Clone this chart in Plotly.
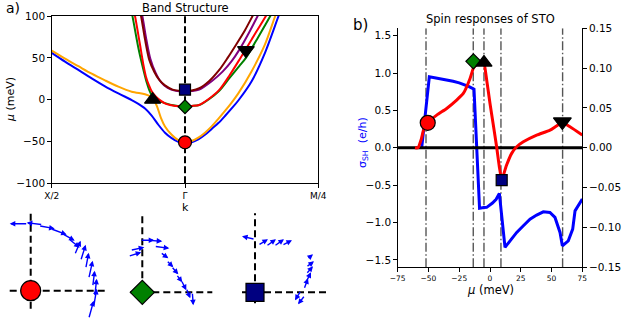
import plotly.graph_objects as go

W, H = 628, 320
def px(x): return x / W
def py(y): return 1 - y / H

# ---------------- Panel a: band structure (X/2=-1, Γ=0, M/4=1) ----------------
k_blue = [-1.0,-0.9,-0.8,-0.7,-0.6,-0.5,-0.4,-0.35,-0.3,-0.25,-0.2,-0.15,-0.1,-0.05,0.0,0.05,0.1,0.15,0.2,0.25,0.3,0.35,0.4,0.5,0.6,0.702,0.75]
mu_blue = [56,45.5,35.5,25.5,16,7.5,-0.5,-5,-10.5,-19,-30,-39.5,-46,-50.5,-52,-51,-47.5,-42,-35,-28,-19.5,-10.5,-1,22,56,100,120]

k_orange = [-1.0,-0.9,-0.8,-0.7,-0.6,-0.5,-0.4,-0.3,-0.26,-0.235,-0.21,-0.18,-0.15,-0.1,-0.05,0.0,0.05,0.1,0.15,0.2,0.25,0.3,0.35,0.4,0.5,0.6,0.677,0.72]
mu_orange = [58.5,49,40,31,23,15.5,9.5,6.5,4,0,-8,-22,-32,-42,-48.5,-51,-49.5,-45.5,-39.5,-32,-23,-13.5,-3.5,7.5,34,66,100,118]

k_green = [-0.42,-0.393,-0.35,-0.318,-0.29,-0.268,-0.245,-0.23,-0.19,-0.143,-0.09,-0.043,0.0,0.05,0.107,0.18,0.257,0.33,0.407,0.457,0.55,0.64,0.68]
mu_green = [120,99,62,39.5,22,11.5,4,1.5,-2,-4.5,-6.8,-8,-8.2,-7.5,-6.4,0.5,10.5,25,40,50,75,100,112]

k_red = [-0.4,-0.375,-0.34,-0.31,-0.293,-0.27,-0.25,-0.218,-0.18,-0.143,-0.07,0.0,0.05,0.107,0.18,0.257,0.33,0.407,0.5,0.607,0.65]
mu_red = [118,100,68,40,27.5,17,10,3.6,-1.5,-5,-7.5,-8,-7.5,-6.4,1,11.6,28,47.5,72,100,112]

k_purple = [-0.35,-0.32,-0.29,-0.26,-0.22,-0.18,-0.13,-0.07,0.0,0.05,0.107,0.2,0.282,0.35,0.407,0.48,0.545,0.6]
mu_purple = [120,100,72,49,32,21,14,10.5,9.8,10.3,12,22,33.5,46,59.5,80,100,118]

k_maroon = [-0.36,-0.33,-0.3,-0.268,-0.23,-0.193,-0.15,-0.093,-0.05,0.0,0.05,0.107,0.18,0.257,0.32,0.382,0.45,0.507,0.55]
mu_maroon = [120,100,72,47.5,33,23.5,17,12,10.8,10.5,11,13.6,22,35.5,50,65.4,83,100,113]

band_ticks = [-1, 0, 1]
band_ticklabels = ["X/2", "Γ", "M/4"]
mu_ticks = [-100, -50, 0, 50, 100]

# marker positions on bands
a_circle = (0.0, -51)
a_diamond = (0.0, -8.5)
a_square = (0.0, 12)
a_tri_up = (-0.243, 0)
a_tri_down = (0.457, 59)

# ---------------- Panel b: spin responses ----------------
mu_sh = [-55.5,-53.5,-51.5,-49.3,-45,-40,-35.2,-30,-25,-21.6,-17,-13.0,-8.5,-5,-2.7,2,5,7.6,12.2,16.3,21.7,27.1,32.5,37.9,43.3,48.7,52.8,56.9,58.8,63.6,67.2,69.1,75]
sigma_sh = [0,0.3,0.65,0.951,0.938,0.925,0.91,0.89,0.87,0.853,0.82,0.786,-0.81,-0.80,-0.798,-0.74,-0.69,-0.61,-1.334,-1.245,-1.133,-1.044,-0.955,-0.901,-0.857,-0.866,-0.932,-1.133,-1.312,-1.245,-1.089,-0.844,-0.687]

mu_k = [-61,-58.5,-56,-53.5,-50.6,-43.3,-35.2,-27.1,-21.7,-16.2,-13.5,-10.8,-6.8,-4.9,-2.7,0,2.7,5.4,7.6,9.5,10.9,13.5,17.6,21.7,27.1,37.9,48.8,58.8,65,75]
kappa = [0,0,0.010,0.025,0.0314,0.041,0.0494,0.0599,0.0682,0.087,0.100,0.105,0.107,0.106,0.085,0.0557,0.0285,0.001,-0.024,-0.0405,-0.0343,-0.0217,-0.007,0.0013,0.0075,0.0159,0.0222,0.0314,0.0264,0.0159]

vlines_mu = [-52, -13.6, -4.9, 8.9, 59]

b_circle = (-50.6, 0.0314)
b_diamond = (-13.5, 0.1085)
b_tri_up = (-4.9, 0.107)
b_square = (9.5, -0.0405)
b_tri_down = (58.8, 0.0326)

mu_b_ticks = [-75, -50, -25, 0, 25, 50, 75]
sigma_ticks = [-1.5, -1.0, -0.5, 0.0, 0.5, 1.0, 1.5]
kappa_ticks = [-0.15, -0.10, -0.05, 0.0, 0.05, 0.10, 0.15]

# ---------------- Insets: spin textures (offsets in px from marker, y up) ----------------
in1_tail_x = [-3, 12, 8, 20, 30, 38, 44, 50, 55, 58, 62, 64, 63, 58]
in1_tail_y = [67, 66, 65, 62, 58, 52, 36, 30, 22, 12, 4, -6, -16, -28]
in1_head_x = [-21, -4, 24, 36, 44, 49, 50, 55, 58, 62, 64, 66, 66, 63]
in1_head_y = [67, 68, 62, 56, 50, 43, 50, 46, 38, 30, 20, 12, 2, -10]

in2_tail_x = [-14, -12, -2, 6, 12, 18, 24, 29, 34, 39, 44, 50]
in2_tail_y = [36, 42, 52, 52, 46, 40, 32, 26, 18, 12, 4, 0]
in2_head_x = [-1, 2, 12, 20, 27, 26, 31, 36, 40, 44, 48, 51]
in2_head_y = [40, 45, 52, 51, 44, 34, 25, 18, 10, 2, -6, -13]

in3_tail_x = [0, 3, 11, 19, 27, 46, 52, 51, 51, 51, 49, 50, 46]
in3_tail_y = [53, 47, 46, 46, 47, 46, 33, 25, 18, 10, 3, -3, 2]
in3_head_x = [-13, 13, 21, 29, 37, 48, 58, 59, 58, 56, 53, 43, 40]
in3_head_y = [56, 53, 53, 53, 52, 47, 38, 31, 26, 20, 14, -12, -8]

# dashed crosses in insets: (x_from, x_to, y_from, y_to)
in1_cross = (-21, 78, -18, 79)
in2_cross = (-12, 70, -8, 77)
in3_cross = (-13, 75, -11, 79)

FONT = "DejaVu Sans"
fig = go.Figure()

# panel a bands
for kk, mm, col in [(k_blue, mu_blue, "#0000ff"), (k_orange, mu_orange, "#ffa500"),
                    (k_green, mu_green, "#008000"), (k_red, mu_red, "#ff0000"),
                    (k_purple, mu_purple, "#800080"), (k_maroon, mu_maroon, "#800000")]:
    fig.add_trace(go.Scatter(x=kk, y=mm, mode="lines", line=dict(color=col, width=2, shape="spline", smoothing=0.8),
                             xaxis="x", yaxis="y", hoverinfo="skip"))
fig.add_trace(go.Scatter(x=[0, 0], y=[-100, 100], mode="lines",
                         line=dict(color="black", width=2, dash="7px,3px"), xaxis="x", yaxis="y"))

def mk(pt, sym, col, size, xa, ya):
    fig.add_trace(go.Scatter(x=[pt[0]], y=[pt[1]], mode="markers", xaxis=xa, yaxis=ya,
                             marker=dict(symbol=sym, color=col, size=size, line=dict(color="black", width=1.2)),
                             cliponaxis=False))

mk(a_circle, "circle", "#ff0000", 13, "x", "y")
mk(a_diamond, "diamond", "#008000", 10.5, "x", "y")
mk(a_square, "square", "#000080", 11, "x", "y")
mk(a_tri_up, "triangle-up", "#000000", 14, "x", "y")
mk(a_tri_down, "triangle-down", "#000000", 14.5, "x", "y")

# panel b
for v in vlines_mu:
    fig.add_trace(go.Scatter(x=[v, v], y=[-1.6, 1.6], mode="lines", xaxis="x2", yaxis="y2",
                             line=dict(color="#555555", width=1.4, dash="9px,2.5px,1.5px,2.5px")))
fig.add_trace(go.Scatter(x=mu_sh, y=sigma_sh, mode="lines", xaxis="x2", yaxis="y2",
                         line=dict(color="#0000ff", width=3)))
fig.add_trace(go.Scatter(x=[-75, 75], y=[0, 0], mode="lines", xaxis="x2", yaxis="y2",
                         line=dict(color="black", width=3)))
fig.add_trace(go.Scatter(x=mu_k, y=kappa, mode="lines", xaxis="x2", yaxis="y3",
                         line=dict(color="#ff0000", width=3, shape="spline", smoothing=0.5)))
mk(b_circle, "circle", "#ff0000", 15, "x2", "y3")
mk(b_diamond, "diamond", "#008000", 11.5, "x2", "y3")
mk(b_tri_up, "triangle-up", "#000000", 14, "x2", "y3")
mk(b_square, "square", "#000080", 11, "x2", "y3")
mk(b_tri_down, "triangle-down", "#000000", 15.5, "x2", "y3")

# insets
insets = [("x3", "y4", in1_cross, (in1_tail_x, in1_tail_y, in1_head_x, in1_head_y), "circle", "#ff0000", 20),
          ("x4", "y5", in2_cross, (in2_tail_x, in2_tail_y, in2_head_x, in2_head_y), "diamond", "#008000", 18.5),
          ("x5", "y6", in3_cross, (in3_tail_x, in3_tail_y, in3_head_x, in3_head_y), "square", "#000080", 18)]
annotations = []
for xa, ya, cross, arr, sym, col, size in insets:
    x0, x1, y0, y1 = cross
    fig.add_trace(go.Scatter(x=[x0, x1], y=[0, 0], mode="lines", xaxis=xa, yaxis=ya,
                             line=dict(color="black", width=2, dash="7px,4px")))
    fig.add_trace(go.Scatter(x=[0, 0], y=[y0, y1], mode="lines", xaxis=xa, yaxis=ya,
                             line=dict(color="black", width=2, dash="7px,4px")))
    tx, ty, hx, hy = arr
    for a, b, c, d in zip(tx, ty, hx, hy):
        annotations.append(dict(x=c, y=d, ax=a, ay=b, xref=xa, yref=ya, axref=xa, ayref=ya, text="",
                                showarrow=True, arrowhead=2, arrowsize=0.8, arrowwidth=1.4,
                                arrowcolor="#0000ff", standoff=0, startstandoff=0))
    mk((0, 0), sym, col, size, xa, ya)

def txt(x, y, s, size, color="black", angle=0, xanchor="center", yanchor="middle"):
    annotations.append(dict(x=px(x), y=py(y), xref="paper", yref="paper", text=s, showarrow=False,
                            font=dict(family=FONT, size=size, color=color), textangle=angle,
                            xanchor=xanchor, yanchor=yanchor))

txt(4, 7.5, "a)", 14, xanchor="left")
txt(185.5, 7.5, "Band Structure", 11.5)
txt(10, 100, "<i>μ</i> (meV)", 11, angle=-90)
txt(185.5, 207, "k", 11)
txt(351, 25, "b)", 15, xanchor="left")
txt(490.5, 19, "Spin responses of STO", 11.5)
txt(490, 290, "<i>μ</i> (meV)", 11.5)
txt(363, 143, "σ<sub>SH</sub>  (e/h)", 11, color="#0000ff", angle=-90)
txt(623, 148, "κ", 11, color="#ff0000", angle=-90, xanchor="left")

axis_common = dict(showgrid=False, zeroline=False, ticks="outside", ticklen=3.5, tickwidth=1,
                   linecolor="black", linewidth=1, tickcolor="black", showline=True, automargin=False)
hidden = dict(visible=False, showgrid=False, zeroline=False, automargin=False)

fig.update_layout(
    width=W, height=H, margin=dict(l=0, r=0, t=0, b=0, autoexpand=False), showlegend=False,
    paper_bgcolor="white", plot_bgcolor="white", font=dict(family=FONT, color="black"),
    xaxis=dict(domain=[px(51.7), px(318.3)], range=[-1, 1], anchor="y", mirror=True,
               tickvals=band_ticks, ticktext=band_ticklabels, tickfont=dict(size=9), **axis_common),
    yaxis=dict(domain=[py(183.3), py(16)], range=[-100, 100], anchor="x", mirror=True,
               tickvals=mu_ticks, tickfont=dict(size=10.5), **axis_common),
    xaxis2=dict(domain=[px(397.7), px(582.3)], range=[-75, 75], anchor="y2",
                tickvals=mu_b_ticks, tickfont=dict(size=7.5), **axis_common),
    yaxis2=dict(domain=[py(267.3), py(28.3)], range=[-1.6, 1.6], anchor="x2",
                tickvals=sigma_ticks, tickformat=".1f", tickfont=dict(size=10.5), **axis_common),
    yaxis3=dict(range=[-0.15, 0.15], overlaying="y2", side="right", anchor="x2",
                tickvals=kappa_ticks, tickformat=".2f", tickfont=dict(size=10.5), **axis_common),
    xaxis3=dict(domain=[px(0), px(115)], range=[-30.7, 84.3], anchor="y4", **hidden),
    yaxis4=dict(domain=[py(320), py(205)], range=[-29.3, 85.7], anchor="x3", **hidden),
    xaxis4=dict(domain=[px(115), px(225)], range=[-27.3, 82.7], anchor="y5", **hidden),
    yaxis5=dict(domain=[py(320), py(205)], range=[-27.7, 87.3], anchor="x4", **hidden),
    xaxis5=dict(domain=[px(225), px(340)], range=[-30, 85], anchor="y6", **hidden),
    yaxis6=dict(domain=[py(320), py(205)], range=[-27.7, 87.3], anchor="x5", **hidden),
    annotations=annotations,
)

fig.write_html("out.html", config={"displayModeBar": False},
               post_script="document.body.style.margin='0px'; document.body.style.overflow='hidden';")
